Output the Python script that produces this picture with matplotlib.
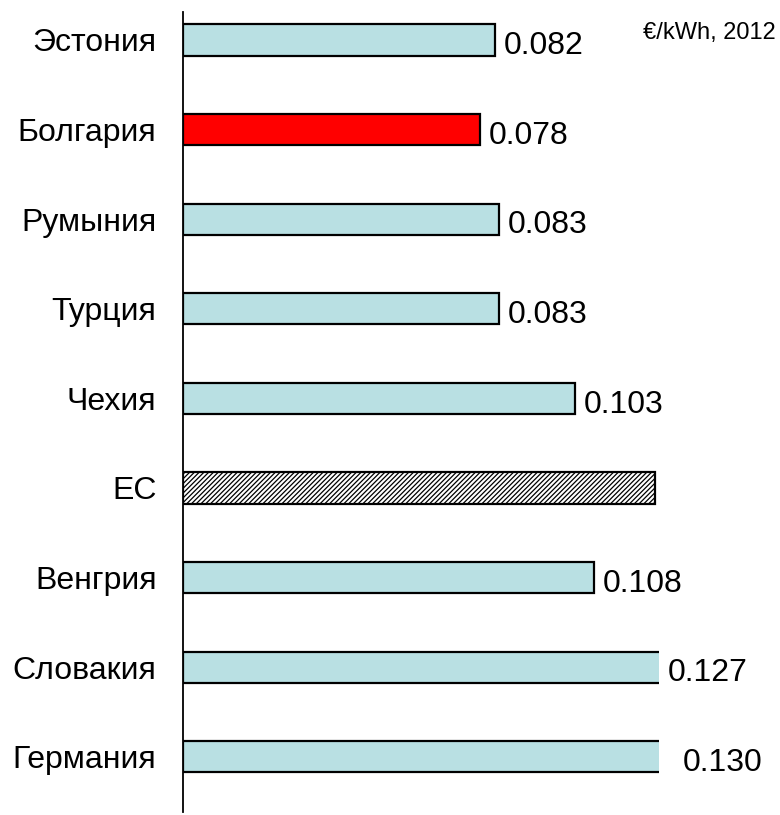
import numpy as np
import matplotlib.pyplot as plt

plt.rcParams['font.family'] = ['Liberation Sans', 'DejaVu Sans']

# electricity price, EUR/kWh, 2012
countries = ['Эстония', 'Болгария', 'Румыния', 'Турция', 'Чехия',
             'ЕС', 'Венгрия', 'Словакия', 'Германия']
prices = [0.082, 0.078, 0.083, 0.083, 0.103, 0.124, 0.108, 0.127, 0.130]
labels = ['0.082', '0.078', '0.083', '0.083', '0.103', '', '0.108', '0.127', '0.130']

light = '#b9e0e3'
colors = [light, '#ff0000', light, light, light, 'white', light, light, light]
hatches = ['', '', '', '', '', '///////', '', '', '']

xmax = 0.125

fig = plt.figure(figsize=(7.8, 8.15), dpi=100)
ax = fig.add_axes([0.2346, 0.0037, 0.6103, 0.9816])

y = np.arange(len(countries))
plt.rcParams['hatch.linewidth'] = 0.9
bars = ax.barh(y, prices, height=0.35, color=colors, edgecolor='black',
               linewidth=1.6)
for b, h in zip(bars, hatches):
    b.set_hatch(h)

ax.set_xlim(0, xmax)
ax.set_ylim(8.616, -0.3125)

# value labels, bars past the axis end are cut off
extra = {'0.130': 11}
for yi, v, lab in zip(y, prices, labels):
    if not lab:
        continue
    ax.annotate(lab, (min(v, xmax), yi), xytext=(6 + extra.get(lab, 0), -2),
                textcoords='offset points', va='center_baseline', ha='left',
                fontsize=23, annotation_clip=False)

ax.set_yticks(y)
ax.set_yticklabels(countries, fontsize=23)
ax.tick_params(axis='y', length=0, pad=19)
ax.set_xticks([])
for s in ['top', 'right', 'bottom']:
    ax.spines[s].set_visible(False)
ax.spines['left'].set_linewidth(1.3)

fig.text(0.995, 0.96, '€/kWh, 2012', ha='right', va='center', fontsize=17)

fig.savefig('out.png', dpi=100)
